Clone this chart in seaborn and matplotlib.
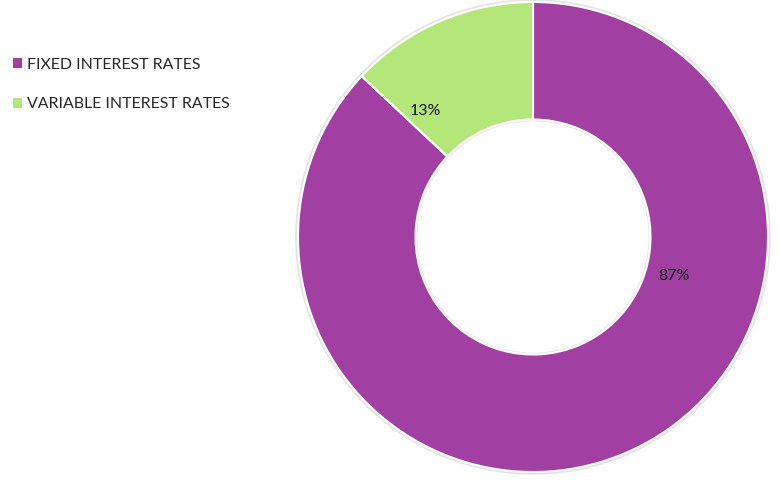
import matplotlib.pyplot as plt
import seaborn as sns
from matplotlib.patches import Patch

labels = ['FIXED INTEREST RATES', 'VARIABLE INTEREST RATES']
shares = [87, 13]
colors = ['#A23FA3', '#B5E67A']

sns.set_style('white')
plt.rcParams['font.family'] = ['Lato', 'DejaVu Sans']

fig = plt.figure(figsize=(7.8, 4.82), dpi=100)
W, H = 780, 482
cx, cy, r = 533, 237, 235
ax = fig.add_axes([(cx - r) / W, (H - cy - r) / H, 2 * r / W, 2 * r / H])

# faint shadow ring
ax.pie([1], radius=1.012, colors=['#e4e4e4'], wedgeprops=dict(width=0.52, linewidth=0))
wedges, _ = ax.pie(shares, colors=colors, startangle=90, counterclock=False,
                   wedgeprops=dict(width=0.5, edgecolor='white', linewidth=1.5))
ax.set_xlim(-1, 1)
ax.set_ylim(-1, 1)
ax.set_aspect('equal')
ax.axis('off')

label_pos = [(0.60, -0.165), (-0.46, 0.535)]
for (x, y), v in zip(label_pos, shares):
    ax.text(x, y, f'{v}%', ha='center', va='center', fontsize=11.5, color='#111111')

handles = [Patch(facecolor=c, edgecolor='none') for c in colors]
fig.legend(handles, labels, loc='upper left', bbox_to_anchor=(-0.002, 0.91),
           frameon=False, fontsize=11.4, handlelength=0.6, handleheight=0.6,
           handletextpad=0.3, labelspacing=1.62)

fig.savefig('out.png', dpi=100)
